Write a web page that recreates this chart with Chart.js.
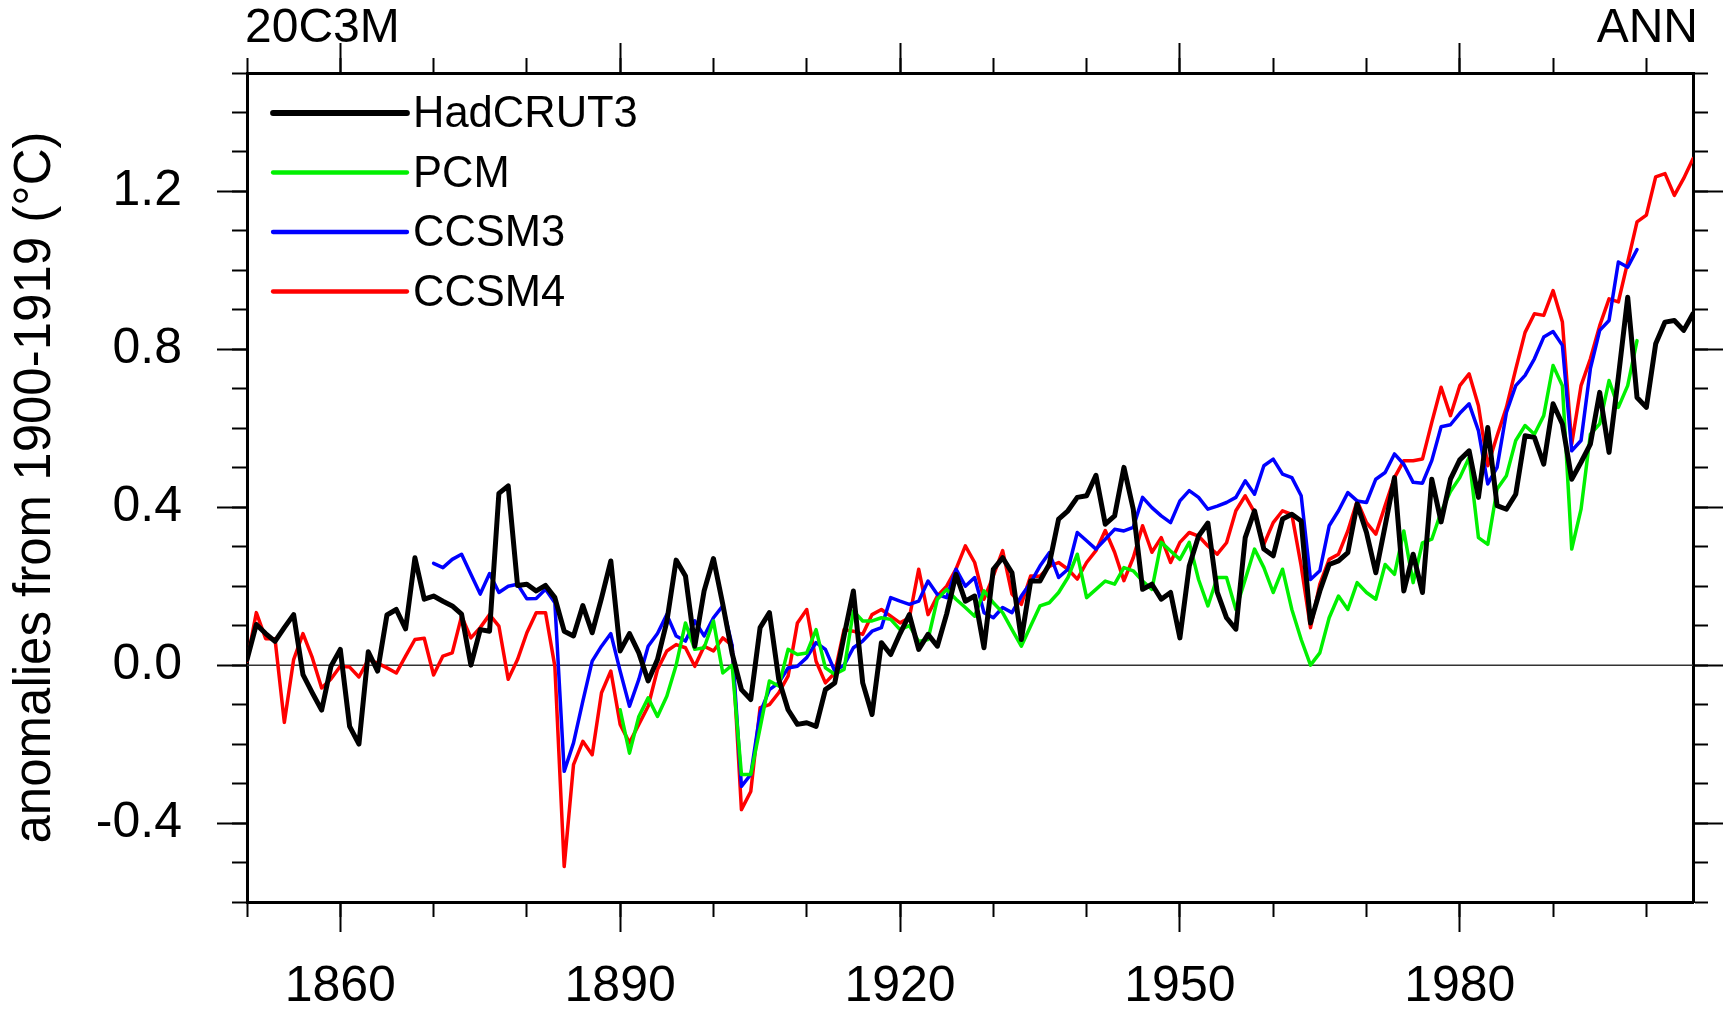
<!DOCTYPE html>
<html>
<head>
<meta charset="utf-8">
<title>20C3M ANN - global temperature anomalies</title>
<script src="https://cdn.jsdelivr.net/npm/chart.js@4.4.1/dist/chart.umd.min.js"></script>
<style>
  html, body { margin: 0; padding: 0; background: #fff; }
  #wrap { width: 1732px; height: 1016px; }
</style>
</head>
<body>
<div id="wrap"><canvas id="chart" width="1732" height="1016"></canvas></div>
<script>
// ---------- DATA ----------
const _ = null;

const years = [
  1850, 1851, 1852, 1853, 1854, 1855, 1856, 1857, 1858, 1859,
  1860, 1861, 1862, 1863, 1864, 1865, 1866, 1867, 1868, 1869,
  1870, 1871, 1872, 1873, 1874, 1875, 1876, 1877, 1878, 1879,
  1880, 1881, 1882, 1883, 1884, 1885, 1886, 1887, 1888, 1889,
  1890, 1891, 1892, 1893, 1894, 1895, 1896, 1897, 1898, 1899,
  1900, 1901, 1902, 1903, 1904, 1905, 1906, 1907, 1908, 1909,
  1910, 1911, 1912, 1913, 1914, 1915, 1916, 1917, 1918, 1919,
  1920, 1921, 1922, 1923, 1924, 1925, 1926, 1927, 1928, 1929,
  1930, 1931, 1932, 1933, 1934, 1935, 1936, 1937, 1938, 1939,
  1940, 1941, 1942, 1943, 1944, 1945, 1946, 1947, 1948, 1949,
  1950, 1951, 1952, 1953, 1954, 1955, 1956, 1957, 1958, 1959,
  1960, 1961, 1962, 1963, 1964, 1965, 1966, 1967, 1968, 1969,
  1970, 1971, 1972, 1973, 1974, 1975, 1976, 1977, 1978, 1979,
  1980, 1981, 1982, 1983, 1984, 1985, 1986, 1987, 1988, 1989,
  1990, 1991, 1992, 1993, 1994, 1995, 1996, 1997, 1998, 1999,
  2000, 2001, 2002, 2003, 2004, 2005
];

// observations
const hadcrut3 = [
  0.014, 0.103, 0.080, 0.060, 0.095, 0.128, -0.024, -0.070, -0.114, -0.003,
  0.040, -0.155, -0.200, 0.034, -0.015, 0.127, 0.141, 0.092, 0.272, 0.167,
  0.175, 0.162, 0.150, 0.129, 0.000, 0.090, 0.086, 0.435, 0.454, 0.202,
  0.205, 0.188, 0.202, 0.171, 0.086, 0.074, 0.151, 0.082, 0.170, 0.264,
  0.036, 0.080, 0.031, -0.040, 0.014, 0.110, 0.266, 0.226, 0.048, 0.188,
  0.270, 0.154, 0.030, -0.062, -0.087, 0.095, 0.133, -0.036, -0.113, -0.150,
  -0.146, -0.155, -0.062, -0.045, 0.074, 0.188, -0.045, -0.125, 0.057, 0.027,
  0.080, 0.128, 0.040, 0.078, 0.048, 0.130, 0.230, 0.162, 0.175, 0.044,
  0.243, 0.272, 0.234, 0.065, 0.213, 0.213, 0.256, 0.370, 0.391, 0.425,
  0.429, 0.481, 0.357, 0.378, 0.501, 0.395, 0.192, 0.205, 0.167, 0.184,
  0.069, 0.251, 0.327, 0.360, 0.185, 0.120, 0.091, 0.323, 0.391, 0.294,
  0.277, 0.370, 0.382, 0.365, 0.107, 0.188, 0.255, 0.264, 0.285, 0.408,
  0.336, 0.234, 0.353, 0.475, 0.188, 0.281, 0.184, 0.471, 0.363, 0.471,
  0.520, 0.543, 0.425, 0.602, 0.404, 0.395, 0.433, 0.581, 0.577, 0.509,
  0.662, 0.611, 0.471, 0.514, 0.560, 0.691, 0.539, 0.730, 0.932, 0.678,
  0.653, 0.814, 0.869, 0.873, 0.848, 0.890
];

// models (null = no run for that year)
const pcm = [
  _, _, _, _, _, _, _, _, _, _,
  _, _, _, _, _, _, _, _, _, _,
  _, _, _, _, _, _, _, _, _, _,
  _, _, _, _, _, _, _, _, _, _,
  -0.113, -0.223, -0.130, -0.083, -0.130, -0.079, 0.000, 0.107, 0.040, 0.044,
  0.112, -0.020, 0.000, -0.277, -0.277, -0.159, -0.040, -0.053, 0.040, 0.027,
  0.031, 0.090, -0.007, -0.023, -0.011, 0.137, 0.112, 0.112, 0.120, 0.116,
  0.090, 0.100, 0.060, 0.065, 0.167, 0.192, 0.167, 0.146, 0.124, 0.188,
  0.158, 0.133, 0.090, 0.048, 0.099, 0.150, 0.158, 0.184, 0.222, 0.281,
  0.171, 0.192, 0.213, 0.205, 0.247, 0.239, 0.213, 0.192, 0.311, 0.289,
  0.268, 0.311, 0.217, 0.150, 0.222, 0.222, 0.141, 0.217, 0.294, 0.247,
  0.184, 0.243, 0.141, 0.065, 0.000, 0.031, 0.120, 0.175, 0.141, 0.209,
  0.184, 0.167, 0.255, 0.230, 0.340, 0.209, 0.310, 0.319, 0.388, 0.440,
  0.475, 0.526, 0.323, 0.306, 0.446, 0.480, 0.569, 0.607, 0.585, 0.632,
  0.759, 0.708, 0.294, 0.395, 0.585, 0.611, 0.721, 0.653, 0.708, 0.822,
  _, _, _, _, _, _
];

const ccsm3 = [
  _, _, _, _, _, _, _, _, _, _,
  _, _, _, _, _, _, _, _, _, _,
  0.258, 0.247, 0.268, 0.281, 0.230, 0.180, 0.232, 0.184, 0.200, 0.205,
  0.168, 0.169, 0.192, 0.158, -0.269, -0.197, -0.091, 0.010, 0.048, 0.080,
  -0.015, -0.104, -0.036, 0.048, 0.080, 0.128, 0.074, 0.061, 0.112, 0.074,
  0.120, 0.150, 0.050, -0.307, -0.277, -0.121, -0.062, -0.045, -0.007, -0.003,
  0.019, 0.057, 0.040, -0.015, 0.000, 0.044, 0.061, 0.086, 0.095, 0.171,
  0.162, 0.154, 0.162, 0.213, 0.179, 0.171, 0.243, 0.200, 0.222, 0.133,
  0.120, 0.146, 0.133, 0.175, 0.209, 0.251, 0.285, 0.222, 0.243, 0.336,
  0.315, 0.294, 0.319, 0.344, 0.340, 0.349, 0.425, 0.399, 0.378, 0.361,
  0.416, 0.442, 0.425, 0.395, 0.403, 0.412, 0.425, 0.467, 0.433, 0.505,
  0.522, 0.484, 0.475, 0.429, 0.217, 0.239, 0.353, 0.391, 0.437, 0.416,
  0.412, 0.471, 0.488, 0.535, 0.509, 0.463, 0.461, 0.518, 0.604, 0.609,
  0.638, 0.662, 0.594, 0.459, 0.501, 0.640, 0.708, 0.734, 0.776, 0.831,
  0.845, 0.810, 0.543, 0.569, 0.751, 0.848, 0.873, 1.021, 1.008, 1.053,
  _, _, _, _, _, _
];

const ccsm4 = [
  0.010, 0.133, 0.067, 0.067, -0.145, 0.014, 0.080, 0.019, -0.058, -0.035,
  -0.003, -0.005, -0.030, 0.014, 0.005, -0.007, -0.020, 0.023, 0.065, 0.068,
  -0.025, 0.023, 0.031, 0.124, 0.069, 0.095, 0.128, 0.099, -0.036, 0.014,
  0.082, 0.133, 0.133, -0.003, -0.510, -0.252, -0.193, -0.227, -0.070, -0.015,
  -0.150, -0.197, -0.150, -0.104, -0.011, 0.036, 0.052, 0.044, -0.003, 0.048,
  0.036, 0.069, 0.050, -0.366, -0.320, -0.108, -0.100, -0.070, -0.028, 0.107,
  0.141, 0.010, -0.045, -0.020, 0.090, 0.086, 0.078, 0.128, 0.141, 0.124,
  0.107, 0.120, 0.243, 0.128, 0.175, 0.200, 0.243, 0.302, 0.260, 0.167,
  0.226, 0.290, 0.180, 0.154, 0.226, 0.225, 0.250, 0.260, 0.243, 0.218,
  0.260, 0.290, 0.341, 0.286, 0.214, 0.272, 0.353, 0.286, 0.323, 0.260,
  0.311, 0.336, 0.327, 0.302, 0.281, 0.310, 0.391, 0.429, 0.387, 0.306,
  0.361, 0.391, 0.382, 0.251, 0.095, 0.205, 0.268, 0.281, 0.340, 0.416,
  0.361, 0.332, 0.404, 0.475, 0.518, 0.518, 0.522, 0.615, 0.704, 0.632,
  0.708, 0.738, 0.657, 0.505, 0.581, 0.653, 0.750, 0.843, 0.890, 0.886,
  0.949, 0.869, 0.560, 0.708, 0.776, 0.860, 0.928, 0.920, 1.021, 1.123,
  1.140, 1.237, 1.245, 1.190, 1.233, 1.283
];

const seriesNames  = ['HadCRUT3', 'PCM', 'CCSM3', 'CCSM4'];
const seriesColors = ['#000000', '#00f000', '#0000ff', '#ff0000'];

// ticks
const xMajorTicks = [1860, 1890, 1920, 1950, 1980];
const xTickLabels = ['1860', '1890', '1920', '1950', '1980'];
const xMinorTicks = [1850, 1860, 1870, 1880, 1890, 1900, 1910, 1920, 1930, 1940, 1950, 1960, 1970, 1980, 1990, 2000];
const yMajorTicks = [-0.4, 0.0, 0.4, 0.8, 1.2];
const yTickLabels = ['-0.4', '0.0', '0.4', '0.8', '1.2'];
const yMinorTicks = [-0.6, -0.5, -0.4, -0.3, -0.2, -0.1, 0.0, 0.1, 0.2, 0.3, 0.4, 0.5, 0.6, 0.7, 0.8, 0.9, 1.0, 1.1, 1.2, 1.3, 1.4, 1.5];

const leftTitle  = '20C3M';
const rightTitle = 'ANN';
const yTitle     = 'anomalies from 1900-1919 (°C)';

// ---------- HELPERS ----------
const FONT = "'Liberation Sans', Arial, Helvetica, sans-serif";

function toPoints(values){
  return years.map((yr, i) => ({x: yr, y: values[i]}));
}

// one axis per side carries the long (major) ticks, a zero-width twin carries the short ones
function makeAxis(axis, position, weight, tickValues, tickLength, thickness, extra){
  const isX = axis === 'x';
  return Object.assign({
    type: 'linear',
    axis: axis,
    position: position,
    weight: weight,
    min: isX ? 1850 : -0.6,
    max: isX ? 2005 : 1.5,
    afterBuildTicks: s => { s.ticks = tickValues.map(v => ({value: v})); },
    afterFit: s => { if (isX) s.height = thickness; else s.width = thickness; },
    grid: { display: true, drawOnChartArea: false, drawTicks: true, tickLength: tickLength, tickWidth: 2, tickColor: '#000', color: '#000' },
    border: { display: true, color: '#000', width: 3 },
    ticks: { display: false }
  }, extra || {});
}

// ---------- TITLES + LEGEND ----------
const decorPlugin = {
  id: 'decor',
  afterDraw(chart){
    const {ctx, chartArea} = chart;
    ctx.save();
    ctx.fillStyle = '#000';
    ctx.font = '48px ' + FONT;
    ctx.textBaseline = 'alphabetic';
    ctx.textAlign = 'left';
    ctx.fillText(leftTitle, chartArea.left - 2, 42);
    ctx.textAlign = 'right';
    ctx.fillText(rightTitle, chartArea.right + 5, 42);

    ctx.font = '43.5px ' + FONT;
    ctx.textAlign = 'left';
    ctx.textBaseline = 'middle';
    ctx.lineCap = 'round';
    chart.data.datasets.forEach((ds, i) => {
      if (!ds.label) return; // zero line
      const y = chartArea.top + 40 + i * 59.5;
      ctx.strokeStyle = ds.borderColor;
      ctx.lineWidth = ds.borderWidth + 0.8;
      ctx.beginPath();
      ctx.moveTo(chartArea.left + 26, y);
      ctx.lineTo(chartArea.left + 160, y);
      ctx.stroke();
      ctx.fillText(ds.label, chartArea.left + 166, y + 2);
    });
    ctx.restore();
  }
};

// ---------- CHART ----------
const seriesValues = [hadcrut3, pcm, ccsm3, ccsm4];
const datasets = seriesNames.map((name, i) => ({
  label: name,
  data: toPoints(seriesValues[i]),
  borderColor: seriesColors[i],
  backgroundColor: seriesColors[i],
  borderWidth: i === 0 ? 5 : 3.5,
  pointRadius: 0,
  tension: 0,
  spanGaps: false,
  borderJoinStyle: 'round',
  borderCapStyle: 'round'
}));
// reference line at zero
datasets.push({
  label: '',
  data: [{x: 1850, y: 0}, {x: 2005, y: 0}],
  borderColor: '#333',
  borderWidth: 1.5,
  pointRadius: 0
});

new Chart(document.getElementById('chart'), {
  type: 'line',
  data: { datasets: datasets },
  options: {
    responsive: false,
    animation: false,
    devicePixelRatio: 1,
    layout: { padding: 0 },
    plugins: { legend: { display: false }, tooltip: { enabled: false }, title: { display: false } },
    scales: {
      x: makeAxis('x', 'bottom', 1, xMajorTicks, 30, 114, {
        ticks: { display: true, autoSkip: false, maxRotation: 0, padding: 25, color: '#000',
                 font: { family: FONT, size: 50 }, callback: (v, i) => xTickLabels[i] }
      }),
      xMinor: makeAxis('x', 'bottom', 0, xMinorTicks, 15, 0),
      xTop: makeAxis('x', 'top', 1, xMajorTicks, 30, 73),
      xTopMinor: makeAxis('x', 'top', 0, xMinorTicks, 15, 0),
      y: makeAxis('y', 'left', 1, yMajorTicks, 30, 247, {
        ticks: { display: true, autoSkip: false, padding: 35, color: '#000',
                 font: { family: FONT, size: 50 }, callback: (v, i) => yTickLabels[i] },
        title: { display: true, text: yTitle, color: '#000', font: { family: FONT, size: 51 }, padding: { top: 5, bottom: 0 } }
      }),
      yMinor: makeAxis('y', 'left', 0, yMinorTicks, 15, 0),
      yRight: makeAxis('y', 'right', 1, yMajorTicks, 30, 39),
      yRightMinor: makeAxis('y', 'right', 0, yMinorTicks, 15, 0)
    }
  },
  plugins: [decorPlugin]
});
</script>
</body>
</html>
